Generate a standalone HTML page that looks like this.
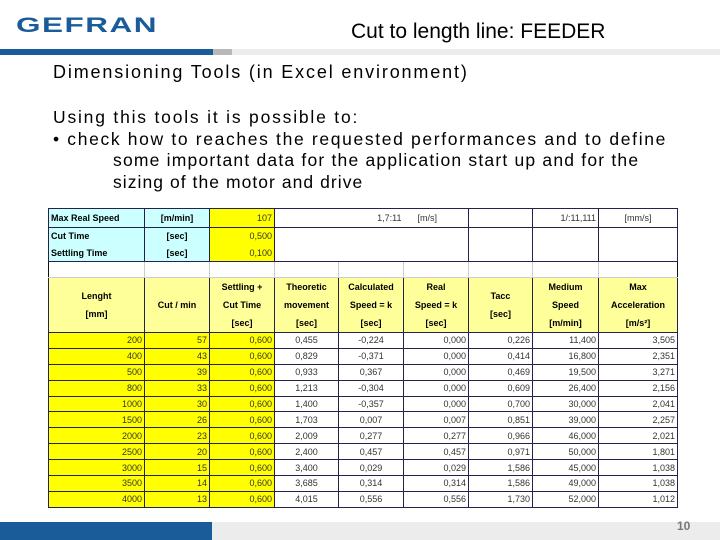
<!DOCTYPE html>
<html><head><meta charset="utf-8">
<style>
body{margin:0;width:720px;height:540px;position:relative;background:#fff;font-family:"Liberation Sans",sans-serif;overflow:hidden}
.abs{position:absolute}
table{border-collapse:collapse;table-layout:fixed;position:absolute;left:48px;top:208px;font-size:9px}
td{border:1px solid #22224a;padding:0 2px;overflow:hidden;white-space:nowrap}
.c{background:#ccffff;font-weight:bold}
.y{background:#ffff00;text-align:right;color:#333}
.h{background:#ffff99;font-weight:bold;text-align:center;line-height:18px;white-space:normal}
.w{background:#fff;text-align:center;color:#333}
.r{text-align:right}
.bl td{border-color:#ccc;border-left-color:#111}
.ln{display:block;white-space:nowrap}
</style></head><body>
<div class="abs" style="left:16px;top:14px;font-size:21px;line-height:24px;font-weight:900;color:#1a5c9a;letter-spacing:1px;transform:scaleX(1.5);transform-origin:left">GEFRAN</div>
<div class="abs" style="left:351px;top:20px;font-size:21px">Cut to length line: FEEDER</div>
<div class="abs" style="left:0;top:49px;width:213px;height:6px;background:#1a5c9a"></div>
<div class="abs" style="left:213px;top:49px;width:19px;height:6px;background:#b8b8b8"></div>
<div class="abs" style="left:232px;top:49px;width:488px;height:6px;background:#ececec"></div>
<div class="abs" style="left:53px;top:62px;font-size:18px;letter-spacing:1.85px">Dimensioning Tools (in Excel environment)</div>
<div class="abs" style="left:53px;top:107px;font-size:17.5px;line-height:21.6px;width:660px">
<span class="ln" style="letter-spacing:1.8px">Using this tools it is possible to:</span>
<span class="ln" style="letter-spacing:1.65px">• check how to reaches the requested performances and to define</span>
<span class="ln" style="padding-left:60px;letter-spacing:1.2px">some important data for the application start up and for the</span>
<span class="ln" style="padding-left:60px;letter-spacing:1.05px">sizing of the motor and drive</span></div>
<table>
<colgroup><col style="width:96px"><col style="width:65px"><col style="width:65px"><col style="width:64px"><col style="width:65px"><col style="width:65px"><col style="width:64px"><col style="width:66px"><col style="width:79px"></colgroup>
<tr style="height:19px"><td class="c">Max Real Speed</td><td class="c" style="text-align:center">[m/min]</td><td class="y">107</td><td colspan="2" class="w r" style="border-right:none">1,7:11</td><td class="w" style="border-left:none;text-align:left;padding-left:14px">[m/s]</td><td class="w"></td><td class="w r">1/:11,111</td><td class="w">[mm/s]</td></tr>
<tr style="height:17px"><td class="c" style="border-bottom:none">Cut Time</td><td class="c" style="text-align:center;border-bottom:none">[sec]</td><td class="y" style="border-bottom:none">0,500</td><td colspan="3" rowspan="2" class="w"></td><td rowspan="2" class="w"></td><td rowspan="2" class="w"></td><td rowspan="2" class="w"></td></tr>
<tr style="height:17px"><td class="c" style="border-top:none">Settling Time</td><td class="c" style="text-align:center;border-top:none">[sec]</td><td class="y" style="border-top:none">0,100</td></tr>
<tr style="height:16px" class="bl"><td></td><td></td><td></td><td></td><td></td><td></td><td></td><td></td><td style="border-right-color:#111"></td></tr>
<tr style="height:55px"><td class="h">Lenght<br>[mm]</td><td class="h">Cut / min</td><td class="h">Settling +<br>Cut Time<br>[sec]</td><td class="h">Theoretic<br>movement<br>[sec]</td><td class="h">Calculated<br>Speed = k<br>[sec]</td><td class="h">Real<br>Speed = k<br>[sec]</td><td class="h">Tacc<br>[sec]</td><td class="h">Medium<br>Speed<br>[m/min]</td><td class="h">Max<br>Acceleration<br>[m/s²]</td></tr>
<tbody id="rows"></tbody>
</table>
<div class="abs" style="left:0;top:522px;width:212px;height:18px;background:#1a5c9a"></div>
<div class="abs" style="left:212px;top:522px;width:508px;height:18px;background:#ececec"></div>
<div class="abs" style="left:677px;top:519px;font-size:12px;font-weight:bold;color:#777">10</div>
<script>
const lengths=["200","400","500","800","1000","1500","2000","2500","3000","3500","4000"];
const cuts=["57","43","39","33","30","26","23","20","15","14","13"];
const settle=["0,600","0,600","0,600","0,600","0,600","0,600","0,600","0,600","0,600","0,600","0,600"];
const theo=["0,455","0,829","0,933","1,213","1,400","1,703","2,009","2,400","3,400","3,685","4,015"];
const calc=["-0,224","-0,371","0,367","-0,304","-0,357","0,007","0,277","0,457","0,029","0,314","0,556"];
const real=["0,000","0,000","0,000","0,000","0,000","0,007","0,277","0,457","0,029","0,314","0,556"];
const tacc=["0,226","0,414","0,469","0,609","0,700","0,851","0,966","0,971","1,586","1,586","1,730"];
const med=["11,400","16,800","19,500","26,400","30,000","39,000","46,000","50,000","45,000","49,000","52,000"];
const acc=["3,505","2,351","3,271","2,156","2,041","2,257","2,021","1,801","1,038","1,038","1,012"];
const tb=document.getElementById('rows');
for(let i=0;i<lengths.length;i++){
 const tr=document.createElement('tr');
 
 
 tr.style.height='15.9px';
 tb.appendChild(tr);
 const vals=[lengths[i],cuts[i],settle[i],theo[i],calc[i],real[i],tacc[i],med[i],acc[i]];
 vals.forEach((v,j)=>{
  const td=document.createElement('td');
  
  
  td.textContent=v;
  td.className=j<3?'y':(j<5?'w':'w r');
  td.style.lineHeight='14px';
  tr.appendChild(td);
 });
}
</script>
</body></html>
